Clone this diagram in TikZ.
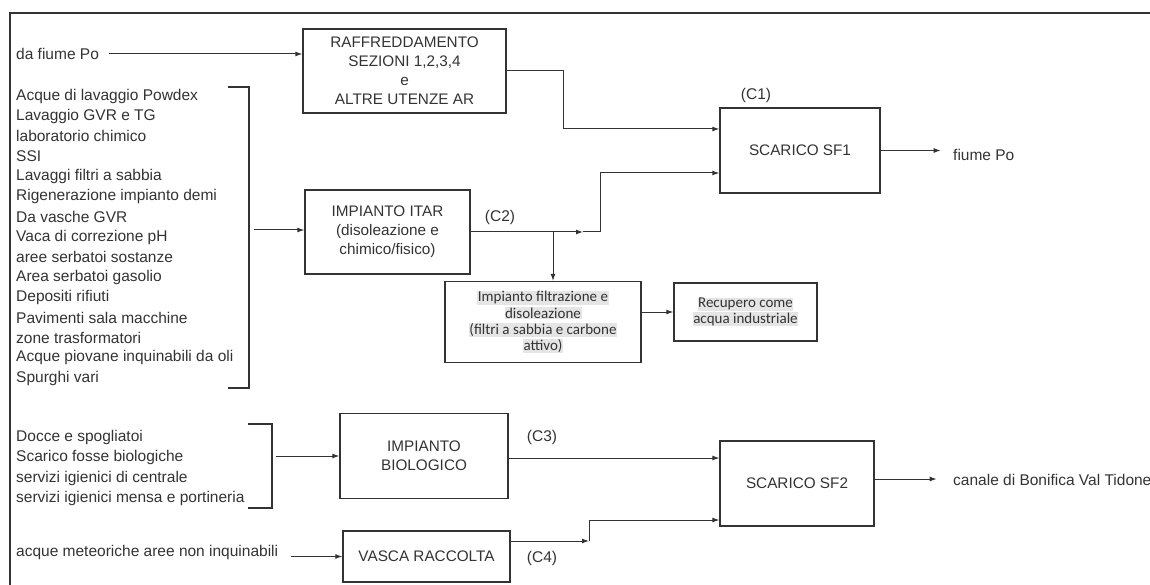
\documentclass[tikz,border=0pt]{standalone}
\usepackage{fontspec}
\setmainfont{Liberation Sans}
\newfontfamily\calib{Carlito}
\usetikzlibrary{arrows.meta}
\definecolor{ink}{HTML}{333333}
\newcommand{\hlt}[1]{{\setlength{\fboxsep}{0.6pt}\colorbox{black!10}{#1}}}
\begin{document}
\begin{tikzpicture}[x=1pt,y=-1pt,
  every node/.style={text=ink},
  txt/.style={font=\fontsize{15.5}{19}\selectfont, inner sep=0pt},
  box/.style={draw=ink, line width=1.3pt, align=center, inner sep=2pt,
    font=\fontsize{15.3}{19}\selectfont},
  smallbox/.style={draw=ink, line width=1.3pt, align=center, inner sep=2pt,
    font=\calib\fontsize{15}{16.3}\selectfont},
  link/.style={draw=ink, line width=1pt},
  arr/.style={link, -{Latex[length=7pt,width=5pt]}},
  brk/.style={draw=ink, line width=1.3pt}
]
\useasboundingbox (0,0) rectangle (1150,585);

% outer frame (top and left edges)
\draw[draw=ink, line width=1.4pt] (10,585) -- (10,13) -- (1150,13);

% process blocks
\node[box, minimum width=203pt, minimum height=84pt] (raff) at (404.5,71)
  {RAFFREDDAMENTO\\SEZIONI 1,2,3,4\\e\\ALTRE UTENZE AR};
\node[box, minimum width=160pt, minimum height=85pt] (sf1) at (800,150.5) {SCARICO SF1};
\node[box, minimum width=165pt, minimum height=84pt] (itar) at (387.5,232)
  {IMPIANTO ITAR\\(disoleazione e\\chimico/fisico)};
\node[smallbox, minimum width=196pt, minimum height=81pt] (filt) at (543,322)
  {\hlt{Impianto filtrazione e}\\\hlt{disoleazione}\\\hlt{(filtri a sabbia e carbone}\\\hlt{attivo)}};
\node[smallbox, minimum width=143pt, minimum height=58pt, font=\calib\fontsize{15}{15.5}\selectfont] (rec) at (745.5,312)
  {\hlt{Recupero come}\\\hlt{acqua industriale}};
\node[box, minimum width=168pt, minimum height=85pt] (bio) at (424,456)
  {IMPIANTO\\BIOLOGICO};
\node[box, minimum width=154pt, minimum height=85pt] (sf2) at (797,483.5) {SCARICO SF2};
\node[box, minimum width=167pt, minimum height=51pt] (vasca) at (426.5,556.5) {VASCA RACCOLTA};

% sources
\node[txt, anchor=west] (dapo) at (16,54) {da fiume Po};
\foreach \t [count=\i] in {Acque di lavaggio Powdex, Lavaggio GVR e TG,
  laboratorio chimico, SSI, Lavaggi filtri a sabbia, Rigenerazione impianto demi,
  Da vasche GVR, Vaca di correzione pH, aree serbatoi sostanze,
  Area serbatoi gasolio, Depositi rifiuti, Pavimenti sala macchine,
  zone trasformatori, Acque piovane inquinabili da oli, Spurghi vari}
  \node[txt, anchor=west] (la\i) at (16,{96+20.15*(\i-1)}) {\t};
\foreach \t [count=\i] in {Docce e spogliatoi, Scarico fosse biologiche,
  servizi igienici di centrale, servizi igienici mensa e portineria}
  \node[txt, anchor=west] (lb\i) at (16,{437.5+20.3*(\i-1)}) {\t};
\node[txt, anchor=west] (meteo) at (16,552) {acque meteoriche aree non inquinabili};

% receiving bodies
\node[txt, anchor=west] (po) at (953,155) {fiume Po};
\node[txt, anchor=west] (tidone) at (953,480) {canale di Bonifica Val Tidone};

% outlet labels
\node[txt] (c1) at (756,95) {(C1)};
\node[txt] (c2) at (500,217) {(C2)};
\node[txt] (c3) at (542,437) {(C3)};
\node[txt] (c4) at (542,558) {(C4)};

% brackets grouping the sources
\draw[brk] (228,87) -- (249,87) -- (249,388) -- (228,388);
\draw[brk] (248,424) -- (272,424) -- (272,508) -- (248,508);
\coordinate (g1) at (254,230);
\coordinate (g2) at (276,456);

% junction points
\coordinate (k1) at (563,71);
\coordinate (j2) at (600,232);
\coordinate (b2) at (553,232);
\coordinate (m2) at (583,232);
\coordinate (j4) at (589,541);
\coordinate (v0) at (291,556.5);

% connectors
\draw[arr] ([xshift=10pt]dapo.east) -- (dapo.east -| raff.west);
\draw[arr] (raff.east) -- (k1) |- ([yshift=21.5pt]sf1.west);
\draw[arr] (g1) -- (g1 -| itar.west);
\draw[arr] (itar.east) -- (m2);
\draw[arr] (m2) -- (j2) |- ([yshift=-22.5pt]sf1.west);
\draw[arr] (b2) -- (b2 |- filt.north);
\draw[arr] (filt.east |- rec.west) -- (rec.west);
\draw[arr] (sf1.east) -- ++(60,0);
\draw[arr] (g2) -- (bio.west);
\draw[arr] ([yshift=-2pt]bio.east) -- ([yshift=-2pt]bio.east -| sf2.west);
\draw[arr] (v0) -- (vasca.west);
\draw[arr] ([yshift=15.5pt]vasca.east) -- (j4);
\draw[arr] (j4) |- ([yshift=-36.5pt]sf2.west);
\draw[arr] ([yshift=4.5pt]sf2.east) -- ++(62,0);
\end{tikzpicture}
\end{document}
